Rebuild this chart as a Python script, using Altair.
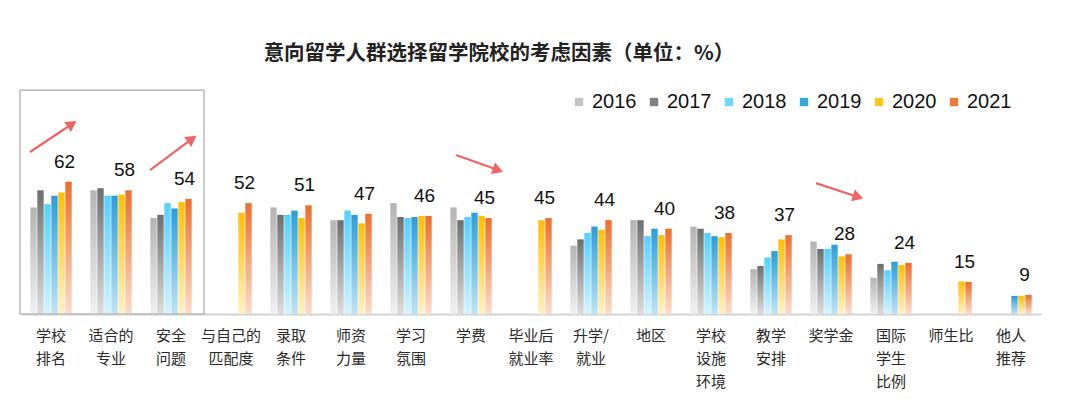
import altair as alt
import pandas as pd

title_text = ["意向留学人群选择留学院校的考虑因素（单位：%）"]
categories = ["学校|排名", "适合的|专业", "安全|问题", "与自己的|匹配度", "录取|条件", "师资|力量",
              "学习|氛围", "学费", "毕业后|就业率", "升学/|就业", "地区", "学校|设施|环境",
              "教学|安排", "奖学金", "国际|学生|比例", "师生比", "他人|推荐"]
years = ["2016", "2017", "2018", "2019", "2020", "2021"]
v2016 = [50, 58, 45, None, 50, 44, 52, 50, None, 32, 44, 41, 21, 34, 17, None, None]
v2017 = [58, 59, 46.5, None, 46.5, 44, 45.5, 44, None, 35, 44, 40, 22.5, 30.5, 23.5, None, None]
v2018 = [51.5, 55.5, 52, None, 46.5, 48.5, 45, 45.5, None, 38, 36.5, 38, 26.5, 30.5, 20.5, None, None]
v2019 = [55.5, 55.5, 49.5, None, 48.5, 46.5, 45.5, 47.5, None, 41, 40, 36.5, 29.5, 32.5, 24.5, None, 8.5]
v2020 = [57, 56, 52.5, 47.5, 45, 42.5, 46, 46, 44, 39.5, 37, 36, 35, 27, 23, 15.3, 8.5]
v2021 = [62, 58, 54, 52, 51, 47, 46, 45, 45, 44, 40, 38, 37, 28, 24, 15, 9]

top_colors = ["#b4b4b4", "#6e6e6e", "#55cffd", "#2b9dd8", "#ffbf00", "#ee6e2c"]
bottom_colors = ["#f0f0f0", "#dcdcdc", "#d4f3ff", "#bfe3f5", "#fff1c4", "#fbdccc"]
legend_colors = ["#c4c4c4", "#808080", "#6fd6fd", "#3ba6dc", "#ffc61a", "#ef7a3e"]

# annotation arrows: category where each arrow sits, start/end heights (value units)
arrow_cat = ["学校|排名", "安全|问题", "学费", "奖学金"]
arrow_y0 = [76.0, 67.5, 74.6, 61.4]
arrow_y1 = [89.1, 82.1, 67.5, 54.9]
arrow_angle = [56, 54, 110, 108]

series = [v2016, v2017, v2018, v2019, v2020, v2021]
rows = []
for yr, vals in zip(years, series):
    for c, v in zip(categories, vals):
        if v is not None:
            rows.append({"cat": c, "year": yr, "value": v})
df = pd.DataFrame(rows)

xscale = alt.Scale(domain=categories, paddingInner=0.3, paddingOuter=0.15)
yscale = alt.Scale(domain=[0, 106], nice=False, zero=False)
X = alt.X("cat:N", scale=xscale, sort=categories, title=None,
          axis=alt.Axis(labelExpr="split(datum.label, '|')", labelAngle=0, ticks=False,
                        domainColor="#d4d4d4", domainWidth=2, labelFontSize=15,
                        labelFont="Noto Sans CJK SC", labelColor="#2a2a2a",
                        labelPadding=14, labelLineHeight=23, labelBaseline="top"))
Y = alt.Y("value:Q", scale=yscale, axis=None)

base = alt.Chart(df)

legend_layer = base.mark_bar(opacity=0).encode(
    x=X, y=Y,
    color=alt.Color("year:N", scale=alt.Scale(domain=years, range=legend_colors),
                    legend=alt.Legend(orient="none", legendX=548, legendY=4, direction="horizontal",
                                      title=None, symbolType="square", symbolSize=70,
                                      symbolOpacity=1, labelFontSize=20, labelFont="Liberation Sans",
                                      labelColor="#111111", columnPadding=7,
                                      labelOffset=3)),
)

layers = [legend_layer]
bw = 7.0
for i, (yr, tc, bc) in enumerate(zip(years, top_colors, bottom_colors)):
    grad = alt.Gradient(gradient="linear",
                        stops=[alt.GradientStop(color=bc, offset=0), alt.GradientStop(color=tc, offset=1)],
                        x1=0, x2=0, y1=1, y2=0)
    layers.append(
        base.transform_filter(alt.datum.year == yr)
        .mark_bar(color=grad, width=bw - 0.6, xOffset=(i - 2.5) * bw)
        .encode(x=X, y=Y)
    )

labels = base.transform_filter(alt.datum.year == "2021").mark_text(
    dy=-20, xOffset=2.5 * bw - 4, fontSize=19, font="Liberation Sans", color="#111111"
).encode(x=X, y=Y, text=alt.Text("value:Q", format="d"))
layers.append(labels)

box_df = pd.DataFrame({"c0": ["学校|排名"], "c1": ["安全|问题"], "y0": [0], "y1": [105]})
box = alt.Chart(box_df).mark_rect(fillOpacity=0, stroke="#a9a9a9", strokeWidth=1.2,
                                  xOffset=-31, x2Offset=33).encode(
    x=alt.X("c0:N", scale=xscale, sort=categories), x2="c1",
    y=alt.Y("y0:Q", scale=yscale, axis=None), y2="y1",
)
layers.append(box)

arrow_df = pd.DataFrame({"cat": arrow_cat, "y0": arrow_y0, "y1": arrow_y1, "ang": arrow_angle})
up = arrow_df.iloc[:2]
down = arrow_df.iloc[2:]
for sub, off0, off1 in [(up, -21, 21), (down, -15, 27)]:
    layers.append(
        alt.Chart(sub).mark_rule(color="#f06464", strokeWidth=2.2, xOffset=off0, x2Offset=off1).encode(
            x=alt.X("cat:N", scale=xscale, sort=categories), x2="cat",
            y=alt.Y("y0:Q", scale=yscale, axis=None), y2="y1",
        )
    )
    layers.append(
        alt.Chart(sub).mark_point(shape="triangle-up", filled=True, size=150, color="#f06464",
                                  opacity=1, xOffset=off1).encode(
            x=alt.X("cat:N", scale=xscale, sort=categories),
            y=alt.Y("y1:Q", scale=yscale, axis=None),
            angle=alt.Angle("ang:Q", scale=None),
        )
    )

# chart title as a text mark placed above the plot area
title_layer = alt.Chart(pd.DataFrame({"t": title_text})).mark_text(
    fontSize=20.5, font="Noto Sans CJK SC", fontWeight="bold", color="#222222",
    align="center", baseline="middle"
).encode(x=alt.value(478), y=alt.value(-34), text="t:N")
layers.append(title_layer)

chart = alt.layer(*layers).properties(
    width=1020, height=226,
    autosize=alt.AutoSizeParams(type="none"),
    padding={"left": 13, "top": 80, "right": 30, "bottom": 80},
    background="white",
).configure_view(stroke=None)

chart.save("out.html", embed_options={"renderer": "svg", "actions": False})
